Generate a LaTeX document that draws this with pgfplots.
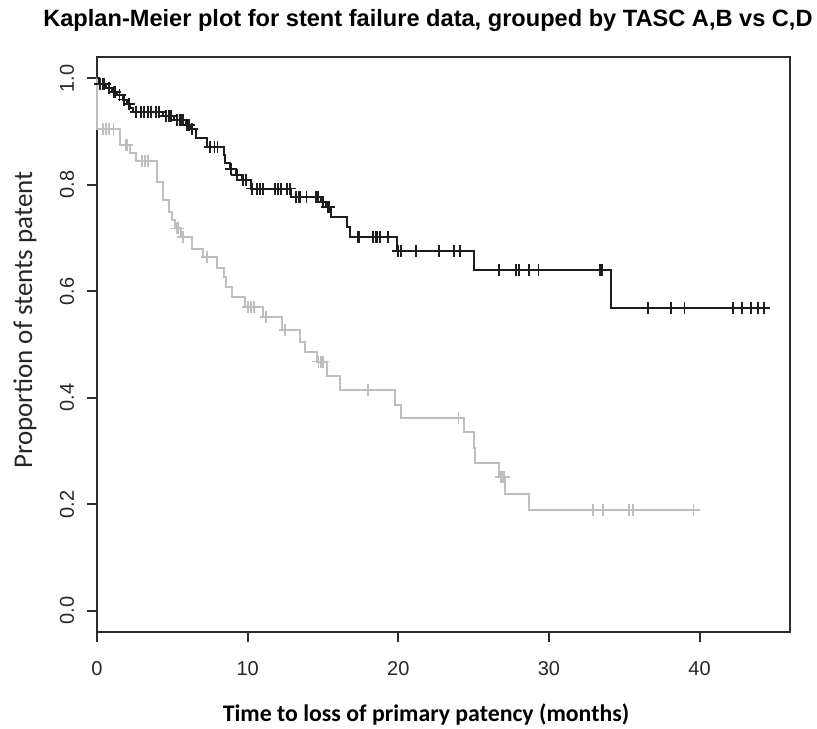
\documentclass[border=0pt]{standalone}
\usepackage{pgfplots}
\pgfplotsset{compat=1.18}
\usepackage{fontspec}
\setmainfont{Liberation Sans}
\newfontfamily\calib{Carlito}
\definecolor{kmblack}{RGB}{30,30,30}
\definecolor{kmgray}{RGB}{190,190,190}
\definecolor{frame}{RGB}{45,45,45}

\begin{document}
\begin{tikzpicture}
% page size = 817x728 px at 0.5pt per px, axis box at (97,57)-(790,632)
\path[use as bounding box] (-48.5pt,-48pt) rectangle (360pt,316pt);
\begin{axis}[
  scale only axis,
  width=346.5pt, height=287.5pt,
  xmin=0, xmax=46, ymin=-0.04, ymax=1.04,
  xtick={0,10,20,30,40},
  ytick={0,0.2,0.4,0.6,0.8,1.0},
  yticklabels={0.0,0.2,0.4,0.6,0.8,1.0},
  tick pos=left, tick align=outside,
  major tick length=5pt,
  tick style={line width=0.9pt, frame},
  axis line style={line width=1pt, frame},
  ticklabel style={font=\fontsize{10}{12}\selectfont, text=black!85},
  /pgf/number format/assume math mode=true,
  xticklabel style={anchor=center, yshift=-13.5pt},
  yticklabel style={anchor=center, xshift=-10pt, rotate=90},
  title={Kaplan-Meier plot for stent failure data, grouped by TASC A,B vs C,D},
  title style={at={(0.4776,1.0643)}, anchor=center, yshift=-6pt,
               font=\bfseries\fontsize{11.8}{13}\selectfont},
  xlabel={Time to loss of primary patency (months)},
  xlabel style={at={(0.4747,-0.1443)}, anchor=center,
                font=\calib\bfseries\fontsize{11.9}{13}\selectfont},
  ylabel={Proportion of stents patent},
  ylabel style={at={(-0.1039,0.5426)}, anchor=center, rotate=0,
                font=\calib\fontsize{13.5}{15}\selectfont, text=black!85},
  clip=false,
]
% TASC C,D (grey)
\addplot[const plot, kmgray, line width=1pt] coordinates {
(0,1.0)(0.03,0.904)(1.5,0.874)(2.2,0.859)(2.6,0.844)(3.96,0.805)(4.4,0.771)
(4.75,0.749)(4.96,0.734)(5.2,0.718)(5.6,0.702)(6.3,0.680)(7.06,0.665)
(7.95,0.643)(8.45,0.626)(8.55,0.608)(8.95,0.590)(9.83,0.571)(11.0,0.551)
(12.3,0.527)(13.5,0.505)(13.8,0.486)(14.6,0.468)(15.3,0.440)(16.1,0.415)
(19.8,0.386)(20.2,0.362)(24.35,0.335)(25.05,0.305)(25.1,0.278)(26.7,0.251)
(27.05,0.220)(28.7,0.1895)(39.6,0.1895)
};
\addplot[only marks, mark=+, mark size=3pt, kmgray, line width=0.9pt] coordinates {
(0.4,0.904)(0.6,0.904)(0.8,0.904)(1.1,0.904)(1.9,0.874)(2.0,0.874)
(3.0,0.844)(3.2,0.844)(3.4,0.844)(5.3,0.718)(5.4,0.718)(5.7,0.702)
(7.3,0.665)(10.0,0.571)(10.2,0.571)(10.4,0.571)(11.2,0.551)(12.5,0.527)
(14.7,0.468)(14.85,0.468)(15.0,0.468)(18.0,0.415)(24.0,0.362)
(26.8,0.251)(26.9,0.251)(27.0,0.251)(32.9,0.1895)(33.6,0.1895)
(35.3,0.1895)(35.6,0.1895)(39.6,0.1895)
};
% TASC A,B (black)
\addplot[const plot, kmblack, line width=1pt] coordinates {
(0,1.0)(0.1,0.99)(0.6,0.982)(1.0,0.975)(1.3,0.968)(1.7,0.96)(2.0,0.952)
(2.2,0.944)(2.4,0.937)(4.4,0.929)(5.1,0.921)(5.9,0.913)(6.2,0.905)
(6.6,0.887)(7.3,0.871)(8.4,0.856)(8.5,0.840)(8.85,0.83)(9.2,0.818)
(9.6,0.809)(10.2,0.793)(12.9,0.777)(14.9,0.768)(15.2,0.759)(15.5,0.740)
(16.6,0.721)(16.8,0.702)(19.9,0.675)(25.0,0.640)(34.1,0.569)(44.3,0.569)
};
\addplot[only marks, mark=+, mark size=3pt, kmblack, line width=0.9pt] coordinates {
(0.2,0.99)(0.4,0.99)(0.5,0.99)(0.8,0.982)(1.1,0.975)(1.2,0.975)(1.5,0.968)
(1.8,0.96)(2.1,0.952)(2.6,0.937)(2.9,0.937)(3.1,0.937)(3.4,0.937)(3.6,0.937)
(3.9,0.937)(4.1,0.937)(4.6,0.929)(4.8,0.929)(4.9,0.929)(5.3,0.921)(5.5,0.921)
(5.6,0.921)(5.7,0.921)(6.0,0.913)(6.1,0.913)(6.3,0.905)(7.5,0.871)(7.8,0.871)
(8.0,0.871)(8.9,0.83)(9.3,0.818)(9.7,0.809)(9.9,0.809)(10.3,0.793)(10.6,0.793)
(10.8,0.793)(11.0,0.793)(11.8,0.793)(12.0,0.793)(12.2,0.793)(12.6,0.793)
(12.8,0.793)(13.2,0.777)(13.4,0.777)(13.5,0.777)(13.9,0.777)(14.5,0.777)
(14.6,0.777)(14.7,0.777)(15.0,0.768)(15.3,0.759)(15.4,0.759)(17.3,0.702)
(17.4,0.702)(18.3,0.702)(18.5,0.702)(18.6,0.702)(18.8,0.702)(19.3,0.702)
(20.0,0.675)(20.2,0.675)(21.2,0.675)(22.7,0.675)(23.7,0.675)(24.1,0.675)
(26.7,0.640)(27.8,0.640)(28.0,0.640)(28.7,0.640)(29.3,0.640)(33.4,0.640)
(33.5,0.640)(36.6,0.569)(38.1,0.569)(39.0,0.569)(42.2,0.569)(42.8,0.569)
(43.4,0.569)(43.9,0.569)(44.3,0.569)
};
\end{axis}
\end{tikzpicture}
\end{document}
